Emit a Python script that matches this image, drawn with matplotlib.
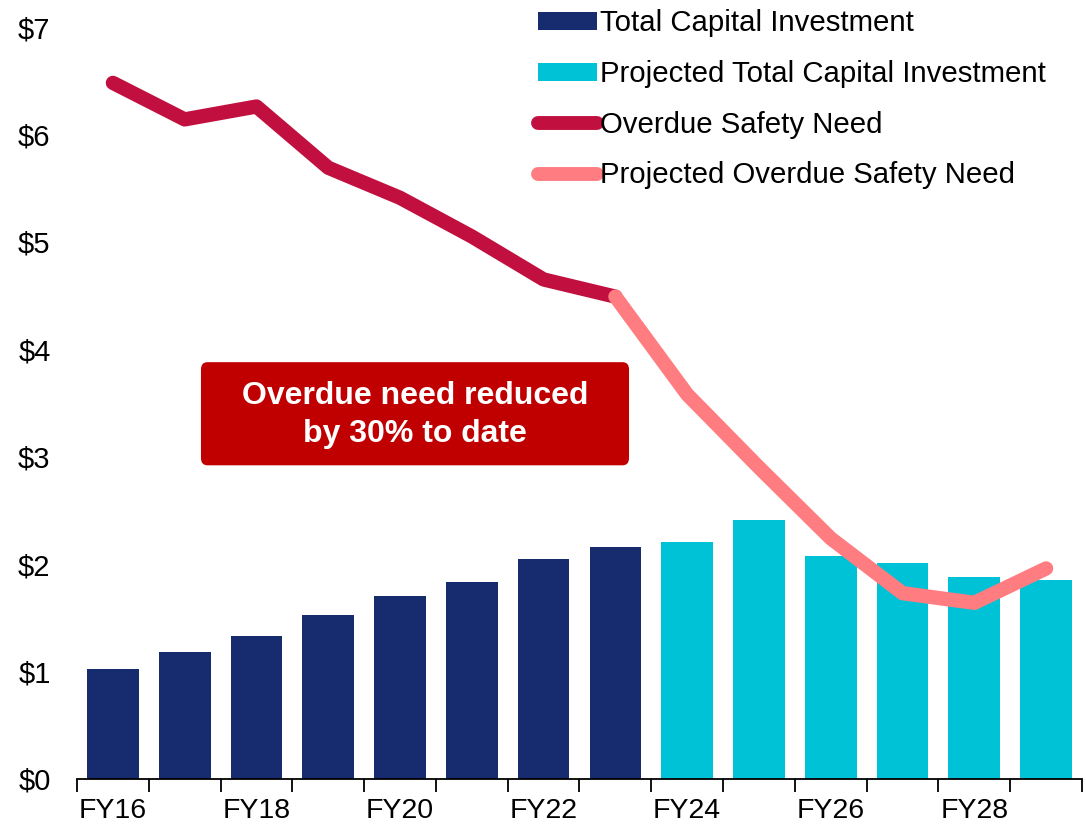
import matplotlib
matplotlib.use("Agg")
import matplotlib.pyplot as plt
from matplotlib.patches import FancyBboxPatch, Patch
from matplotlib.lines import Line2D
import numpy as np

plt.rcParams['font.family'] = ['Liberation Sans', 'DejaVu Sans']

years = ["FY16", "FY17", "FY18", "FY19", "FY20", "FY21", "FY22", "FY23",
         "FY24", "FY25", "FY26", "FY27", "FY28", "FY29"]
invest_actual = [1.02, 1.18, 1.33, 1.53, 1.70, 1.83, 2.05, 2.16]
invest_proj = [2.21, 2.41, 2.08, 2.01, 1.88, 1.85]
need_actual = [6.48, 6.14, 6.26, 5.69, 5.41, 5.05, 4.65, 4.49]
need_proj = [4.49, 3.58, 2.90, 2.24, 1.73, 1.64, 1.96]
yticks = [0, 1, 2, 3, 4, 5, 6, 7]
ytick_labels = ["$0", "$1", "$2", "$3", "$4", "$5", "$6", "$7"]

c_navy = "#172B6F"
c_cyan = "#00C2D6"
c_crimson = "#C1103F"
c_salmon = "#FF7C80"

fig = plt.figure(figsize=(10.86, 8.32), dpi=100)
ax = fig.add_axes([77/1086, 53/832, 1005/1086, 752/832])

x = np.arange(len(years))
na = len(invest_actual)
ax.bar(x[:na], invest_actual, width=0.72, color=c_navy, zorder=2)
ax.bar(x[na:], invest_proj, width=0.72, color=c_cyan, zorder=2)

ax.plot(x[:na], need_actual, color=c_crimson, lw=10.3, solid_capstyle='round',
        solid_joinstyle='round', zorder=3)
ax.plot(x[na - 1:], need_proj, color=c_salmon, lw=10.3, solid_capstyle='round',
        solid_joinstyle='round', zorder=4)

ax.set_xlim(-0.5, len(years) - 0.5)
ax.set_ylim(0, 7)
ax.set_yticks(yticks)
ax.set_yticklabels(ytick_labels, fontsize=21)
ax.tick_params(axis='y', length=0, pad=19)

ax.set_xticks(x[::2])
ax.set_xticklabels(years[::2], fontsize=20.5)
ax.set_xticks(np.arange(-0.5, len(years), 1.0), minor=True)
ax.tick_params(axis='x', which='major', length=0, pad=14)
ax.tick_params(axis='x', which='minor', length=9, width=1.3, direction='out')

for s in ['left', 'right', 'top']:
    ax.spines[s].set_visible(False)
ax.spines['bottom'].set_linewidth(1.3)

# annotation box
box = FancyBboxPatch((1.227, 2.92), 5.963, 0.96,
                     boxstyle="round,pad=0,rounding_size=0.09",
                     facecolor="#C00000", edgecolor="none", zorder=5,
                     mutation_aspect=0.75)
ax.add_patch(box)
ax.text(4.21, 3.39, "Overdue need reduced\nby 30% to date", color="white",
        fontsize=23, fontweight='bold', ha='center', va='center',
        linespacing=1.36, zorder=6)

handles = [
    Patch(facecolor=c_navy, edgecolor='none'),
    Patch(facecolor=c_cyan, edgecolor='none'),
    Line2D([0], [0], color=c_crimson, lw=10, solid_capstyle='round'),
    Line2D([0], [0], color=c_salmon, lw=10, solid_capstyle='round'),
]
labels = ["Total Capital Investment", "Projected Total Capital Investment",
          "Overdue Safety Need", "Projected Overdue Safety Need"]
leg = ax.legend(handles, labels, loc='upper left', bbox_to_anchor=(449/1005, 1.039),
                frameon=False, fontsize=21.2, handlelength=2.0, handleheight=0.55,
                handletextpad=0.1, labelspacing=0.77, borderaxespad=0)

fig.savefig("out.png", dpi=100)
